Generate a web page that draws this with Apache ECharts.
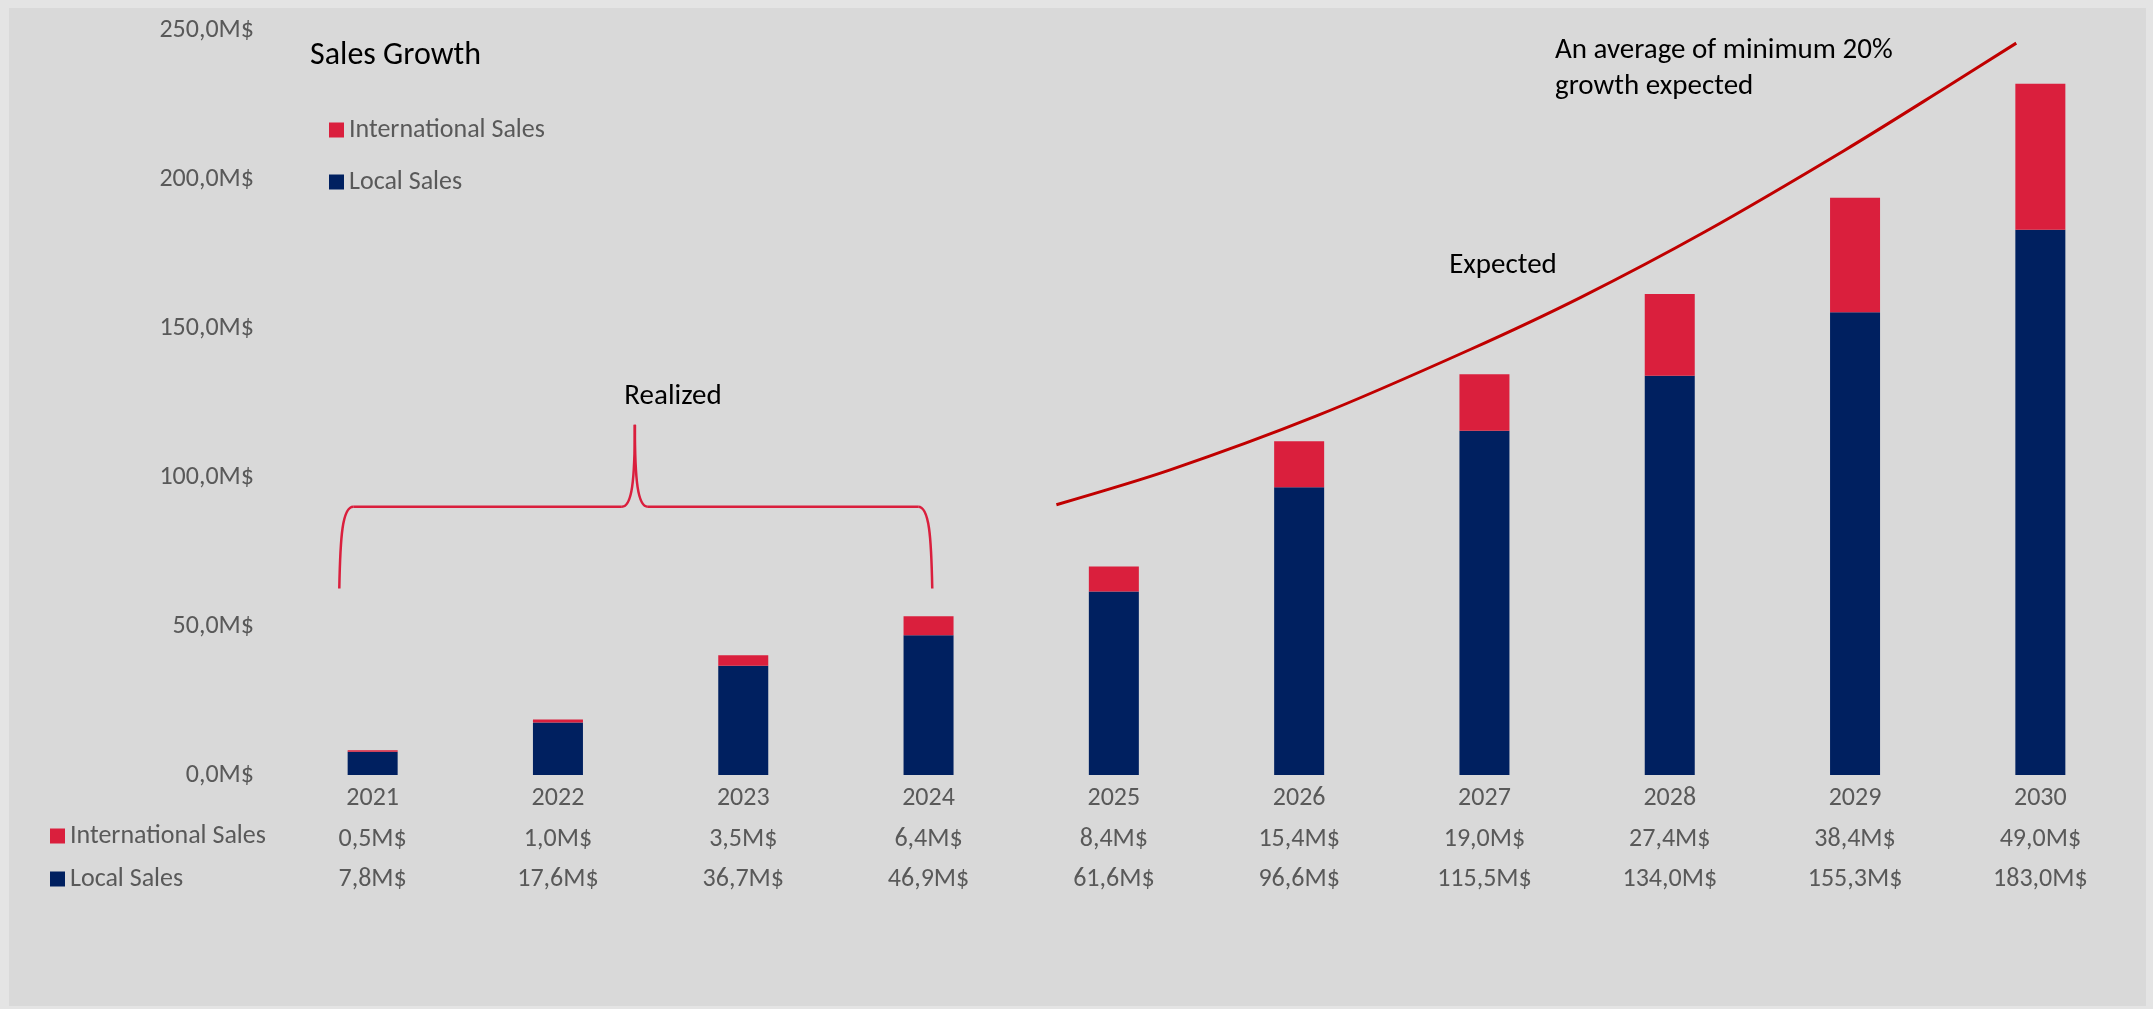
<!DOCTYPE html>
<html><head><meta charset="utf-8">
<script src="https://cdn.jsdelivr.net/npm/echarts@6/dist/echarts.min.js"></script>
<style>
html,body{margin:0;padding:0;background:#e4e4e4;overflow:hidden}
#panel{position:absolute;left:9px;top:8px;width:2137px;height:998px;background:#d9d9d9}
#chart{position:absolute;left:0;top:0;width:2153px;height:1009px}
</style></head><body>
<div id="panel"></div><div id="chart"></div>
<script>
// ---- data ----
const years = ['2021','2022','2023','2024','2025','2026','2027','2028','2029','2030'];
const localSales = [7.8, 17.6, 36.7, 46.9, 61.6, 96.6, 115.5, 134.0, 155.3, 183.0];
const intlSales = [0.5, 1.0, 3.5, 6.4, 8.4, 15.4, 19.0, 27.4, 38.4, 49.0];
const yMin = 0, yMax = 250, yInterval = 50;
// annotation curve, in data space: [category position, value]
const trendCurve = [[3.69,90.7],[4.30,102.3],[5.09,120.4],[5.92,142.7],[6.52,160.3],[7.19,182.3],[7.94,209.5],[8.49,230.7],[8.87,245.6]];
// "Realized" brace, in data space
const braceX = [-0.18, 1.415, 3.02];   // left end, tip, right end
const braceY = [62.6, 90.0, 117.5];    // ends, bar, tip

const FONT = '"Carlito","Lato",sans-serif';
const GRAY = '#595959';
const NAVY = '#002060';
const RED = '#DA1F3D';
const fmt = v => v.toFixed(1).replace('.', ',') + 'M$';

const chart = echarts.init(document.getElementById('chart'), null, {renderer:'canvas'});
const hidden = {axisLine:{show:false}, axisTick:{show:false}, splitLine:{show:false}};
const option = {
  backgroundColor: 'transparent',
  animation: false,
  textStyle: {fontFamily: FONT},
  title: {text:'Sales Growth', left:310, top:40, padding:0,
    textStyle:{fontFamily:FONT, fontSize:32, fontWeight:'normal', color:'#000'}},
  legend: [
    {data:['International Sales','Local Sales'], orient:'vertical', left:329, top:115, padding:0,
      itemWidth:15, itemHeight:15, itemGap:22, icon:'rect',
      textStyle:{fontFamily:FONT, fontSize:26, color:GRAY, lineHeight:30}},
    {data:['International Sales','Local Sales'], orient:'vertical', left:50, top:821, padding:0,
      itemWidth:15, itemHeight:15, itemGap:13, icon:'rect',
      textStyle:{fontFamily:FONT, fontSize:26, color:GRAY, lineHeight:30}}
  ],
  grid: {left:280, right:20, top:30, bottom:234, containLabel:false},
  xAxis: [
    Object.assign({type:'category', data:years,
      axisLabel:{color:GRAY, fontSize:26, fontFamily:FONT, margin:10}}, hidden),
    Object.assign({type:'category', data:years, position:'bottom', offset:41,
      axisLabel:{color:GRAY, fontSize:26, fontFamily:FONT, margin:10, formatter:(v,i)=>fmt(intlSales[i])}}, hidden),
    Object.assign({type:'category', data:years, position:'bottom', offset:81,
      axisLabel:{color:GRAY, fontSize:26, fontFamily:FONT, margin:10, formatter:(v,i)=>fmt(localSales[i])}}, hidden),
    {type:'value', min:-0.5, max:9.5, show:false}
  ],
  yAxis: Object.assign({type:'value', min:yMin, max:yMax, interval:yInterval,
    axisLabel:{color:GRAY, fontSize:26, fontFamily:FONT, margin:26, formatter:fmt}}, hidden),
  series: [
    {name:'Local Sales', type:'bar', stack:'s', xAxisIndex:0, data:localSales, barWidth:50,
      itemStyle:{color:NAVY}},
    {name:'International Sales', type:'bar', stack:'s', xAxisIndex:0, data:intlSales, barWidth:50,
      itemStyle:{color:RED}},
    {name:'trend', type:'line', xAxisIndex:3, yAxisIndex:0, data:trendCurve, smooth:0.3,
      showSymbol:false, silent:true, lineStyle:{color:'#C00000', width:3}}
  ]
};
chart.setOption(option);

// brace through the chart's own scales
const P = (x, y) => chart.convertToPixel({seriesIndex:2}, [x, y]);
const L0 = P(braceX[0], braceY[0]);
const T = P(braceX[1], braceY[2]);
const R0 = P(braceX[2], braceY[0]);
const yh = P(braceX[0], braceY[1])[1];
const cw = 14, tw = 13;
const braceStyle = {fill:null, stroke:RED, lineWidth:2.5};
const bez = (x1,y1,c1x,c1y,c2x,c2y,x2,y2) => ({type:'bezierCurve', silent:true, z:5,
  shape:{x1,y1,cpx1:c1x,cpy1:c1y,cpx2:c2x,cpy2:c2y,x2,y2}, style:braceStyle});
const seg = (x1,y1,x2,y2) => ({type:'line', silent:true, z:5, shape:{x1,y1,x2,y2}, style:braceStyle});
const brace = [
  bez(L0[0], L0[1], L0[0] + 1, yh + 30, L0[0] + 3, yh, L0[0] + cw, yh),
  seg(L0[0] + cw, yh, T[0] - tw, yh),
  bez(T[0] - tw, yh, T[0] - 3, yh, T[0], yh - 25, T[0], T[1]),
  bez(T[0], T[1], T[0], yh - 25, T[0] + 3, yh, T[0] + tw, yh),
  seg(T[0] + tw, yh, R0[0] - cw, yh),
  bez(R0[0] - cw, yh, R0[0] - 3, yh, R0[0] - 1, yh + 30, R0[0], R0[1])
];

const txt = (text, x, y, align, extra) => ({type:'text', x, y, silent:true, z:5,
  style:Object.assign({text, fill:'#000', font:'29px ' + FONT, textAlign:align, textVerticalAlign:'middle'}, extra || {})});
chart.setOption({graphic: brace.concat([
  txt('Realized', 673, 397, 'center'),
  txt('Expected', 1503, 266, 'center'),
  txt('An average of minimum 20%\ngrowth expected', 1555, 69, 'left', {lineHeight:36})
])});
</script>
</body></html>
